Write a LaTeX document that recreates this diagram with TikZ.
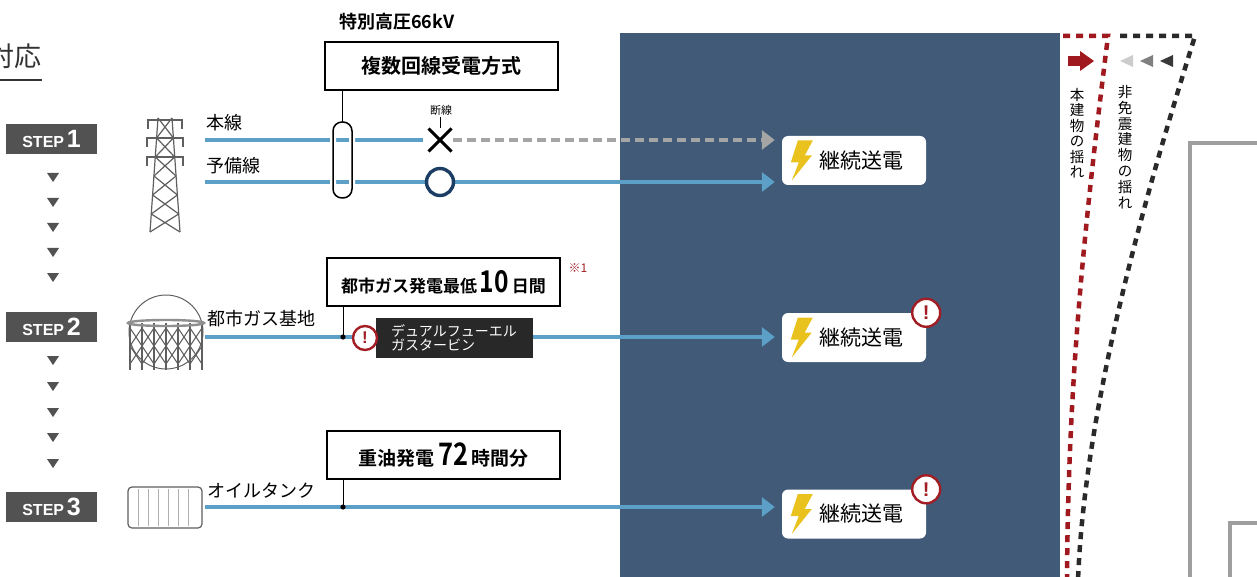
\documentclass[tikz,border=0pt]{standalone}
\usepackage{fontspec}
\setmainfont{Noto Sans CJK JP}[BoldFont={Noto Sans CJK JP Bold}]
\newfontfamily\lat{Liberation Sans}
\usetikzlibrary{arrows.meta, shapes.misc}

\definecolor{cableblue}{RGB}{92,160,200}
\definecolor{panelblue}{RGB}{64,90,120}
\definecolor{stepgray}{RGB}{82,82,82}
\definecolor{warnred}{RGB}{162,30,36}
\definecolor{ringnavy}{RGB}{28,62,100}
\definecolor{boltyellow}{RGB}{234,194,30}
\definecolor{cutgray}{RGB}{165,165,165}
\definecolor{shakered}{RGB}{160,25,30}
\definecolor{shakeblack}{RGB}{42,42,42}
\definecolor{icongray}{RGB}{95,95,95}
\definecolor{wallgray}{RGB}{158,158,158}
\definecolor{turbinebox}{RGB}{40,40,40}

\tikzset{
  stepbox/.style={fill=stepgray, text=white, minimum width=91pt, minimum height=30pt, inner sep=0pt, font=\lat\bfseries},
  infobox/.style={draw, line width=2pt, fill=white, minimum width=233pt, minimum height=48pt, inner sep=0pt, font=\bfseries},
  feedbox/.style={fill=white, rounded corners=6pt, minimum width=144pt, minimum height=49pt, inner sep=0pt, font=\fontsize{21}{21}\selectfont},
  cable/.style={draw=cableblue, line width=4pt, -{Triangle[length=13pt, width=19pt]}, shorten >=7pt},
  lostcable/.style={draw=cutgray, line width=4pt, dash pattern=on 9pt off 5pt, -{Triangle[length=13pt, width=19pt]}, shorten >=7pt},
  shake/.style={line width=4.5pt, dash pattern=on 7pt off 6pt},
  label/.style={font=\fontsize{18}{18}\selectfont, inner sep=0pt},
  zap/.pic={\fill[boltyellow] (6,-20) -- (21,-20) -- (13,-5) -- (20,-5) -- (0,20) -- (7,2) -- (-1,2) -- cycle;},
  warn/.pic={\draw[fill=white, draw=warnred, line width=2.4pt] (0,0) circle (#1);
             \node[text=warnred, font=\lat\bfseries\fontsize{17}{17}\selectfont, inner sep=0pt, scale=#1/12] {!};}
}

\begin{document}
\begin{tikzpicture}[x=1pt, y=-1pt]
  \useasboundingbox (0,0) rectangle (1257,577);
  \fill[white] (0,0) rectangle (1257,577);

  \node[anchor=east, font=\fontsize{27}{27}\selectfont, text=black!80, inner sep=0pt] (title) at (42,56) {対応};
  \draw[black!80, line width=2pt] (0,80) -- (title.east |- 0,80);

  \node[stepbox] (step1) at (51.5,139) {{\fontsize{16}{16}\selectfont STEP\,}{\fontsize{25}{25}\selectfont 1}};
  \node[stepbox] (step2) at (51.5,327) {{\fontsize{16}{16}\selectfont STEP\,}{\fontsize{25}{25}\selectfont 2}};
  \node[stepbox] (step3) at (51.5,507) {{\fontsize{16}{16}\selectfont STEP\,}{\fontsize{25}{25}\selectfont 3}};
  \foreach \y in {177,202,227,252,277,360,386,412,437,463}
    \fill[stepgray] (47,\y-4) -- (59,\y-4) -- (53,\y+5) -- cycle;

  \fill[panelblue] (620,33) rectangle (1060,577);

  % pylon
  \begin{scope}[draw=icongray, line width=1.2pt]
    \draw (158,118) -- (150,232) (172,118) -- (180,232);
    \foreach \y/\w in {120/18, 138/19, 157/19} {
      \draw[line width=2.2pt] (165-\w,\y) -- (165+\w,\y);
      \draw[line width=2pt] (166-\w,\y) -- (166-\w,\y+9) (164+\w,\y) -- (164+\w,\y+9);
    }
    \foreach \a/\b in {118/138,138/157,157/176,176/195,195/214,214/232}
      \draw ({158-8*(\a-118)/114},\a) -- ({172+8*(\b-118)/114},\b)
            ({172+8*(\a-118)/114},\a) -- ({158-8*(\b-118)/114},\b);
  \end{scope}

  % gas holder
  \begin{scope}[draw=icongray, line width=1pt]
    \draw (166,332) circle (37);
    \foreach \x in {130,142,...,202} \draw[line width=1.4pt] (\x,323) -- (\x,370);
    \foreach \x in {130,142,...,190}
      \draw (\x,328) -- (\x+12,346) -- (\x,364) (\x+12,328) -- (\x,346) -- (\x+12,364);
    \draw[line width=2.4pt, draw=icongray!70] (166,323) ellipse [x radius=38, y radius=3];
  \end{scope}

  % oil tank
  \draw[icongray, line width=1.2pt, rounded corners=4pt] (128,487) rectangle (202,528);
  \foreach \x in {138,148,...,194} \draw[icongray!50, line width=0.8pt] (\x,489) -- (\x,526);

  \node[label, anchor=west] (main) at (206,123) {本線};
  \node[label, anchor=west] (spare) at (206,166) {予備線};
  \node[label, anchor=west] (gasbase) at (207,319) {都市ガス基地};
  \node[label, anchor=west] (oiltank) at (207,491) {オイルタンク};

  \node[font=\bfseries\fontsize{18}{18}\selectfont, inner sep=0pt] (volt) at (397,22) {特別高圧66kV};
  \node[infobox, font=\bfseries\fontsize{20}{20}\selectfont] (multi) at (441.5,66) {複数回線受電方式};
  \node[infobox] (gasbox) at (443.5,282)
    {{\fontsize{17}{17}\selectfont 都市ガス発電最低\,}\scalebox{0.82}[1]{\fontsize{30}{30}\selectfont 10}{\fontsize{17}{17}\selectfont\,日間}};
  \node[infobox] (oilbox) at (443.5,455)
    {{\fontsize{19}{19}\selectfont 重油発電\,}\scalebox{0.82}[1]{\fontsize{31}{31}\selectfont 72}{\fontsize{19}{19}\selectfont\,時間分}};
  \node[text=warnred, font=\fontsize{12}{12}\selectfont, inner sep=0pt] (note) at (578,268) {※1};

  \node[feedbox] (feed1) at (854,160.5) {\hspace*{15pt}継続送電};
  \node[feedbox] (feed2) at (854,337.5) {\hspace*{15pt}継続送電};
  \node[feedbox] (feed3) at (854,514) {\hspace*{15pt}継続送電};

  \coordinate (src1) at (205,140);
  \coordinate (src2) at (205,182);
  \coordinate (src3) at (205,337);
  \coordinate (src4) at (205,507);
  \node[cross out, draw, line width=3pt, minimum size=20pt, inner sep=0pt] (cut) at (440,140) {};
  \node[font=\fontsize{11}{11}\selectfont, inner sep=0pt] (cutlbl) at (441,110) {断線};
  \draw[line width=0.8pt] ([yshift=-2pt]cut.north |- cutlbl.south) -- (cut.north);

  \draw[cable, -, shorten >=0pt] (src1) -- ([xshift=-17pt]cut.center);
  \draw[lostcable] ([xshift=13pt]cut.center) -- (feed1.west |- cut);
  \draw[cable] (src2) -- (feed1.west |- src2);
  \draw[cable] (src3) -- (feed2.west |- src3);
  \draw[cable] (src4) -- (feed3.west |- src4);

  \node[circle, draw=ringnavy, fill=white, line width=3.4pt, minimum size=27pt, inner sep=0pt] (ok) at (440,182) {};
  \node[draw, line width=1.5pt, rounded corners=9pt, minimum width=19pt, minimum height=76pt, inner sep=0pt,
        preaction={draw=white, line width=6pt}] (tap) at (342.5,160) {};
  \draw[line width=1pt] (tap.north |- multi.south) -- (tap.north);

  \coordinate (tap2) at (343,337);
  \coordinate (tap3) at (343,507);
  \draw[line width=1pt] (tap2 |- gasbox.south) -- (tap2);
  \draw[line width=1pt] (tap3 |- oilbox.south) -- (tap3);
  \fill (tap2) circle (2.6);
  \fill (tap3) circle (2.6);

  \node[fill=turbinebox, text=white, minimum width=157pt, minimum height=40pt, inner sep=0pt, align=left,
        font=\fontsize{14}{14}\selectfont] (turbine) at (454,338) {デュアルフューエル\\ガスタービン};
  \pic at (365,338) {warn=12};

  \pic at ([xshift=10pt]feed1.west) {zap};
  \pic at ([xshift=10pt]feed2.west) {zap};
  \pic at ([xshift=10pt]feed3.west) {zap};
  \pic at (feed2.north east) {warn=14};
  \pic at (feed3.north east) {warn=14};

  % building sway
  \draw[shake, shakered] (1063,36) -- (1108,36) .. controls (1085,220) and (1068,380) .. (1067,580);
  \draw[shake, shakeblack] (1120,36) -- (1195,36) .. controls (1150,180) and (1085,400) .. (1078,580);
  \fill[shakered] (1068,56) rectangle (1081,66);
  \fill[shakered] (1080,51) -- (1094,61) -- (1080,71) -- cycle;
  \fill[black!20] (1133,55) -- (1120,61) -- (1133,67) -- cycle;
  \fill[black!50] (1153,55) -- (1140,61) -- (1153,67) -- cycle;
  \fill[black!78] (1173,55) -- (1160,61) -- (1173,67) -- cycle;
  \node[align=center, font=\fontsize{14.5}{15.5}\selectfont, inner sep=0pt] (swayown) at (1077,133) {本\\建\\物\\の\\揺\\れ};
  \node[align=center, font=\fontsize{14.5}{15.8}\selectfont, inner sep=0pt] (swayother) at (1125,147) {非\\免\\震\\建\\物\\の\\揺\\れ};

  \draw[wallgray, line width=4pt] (1190,580) -- (1190,143) -- (1260,143);
  \draw[wallgray, line width=4pt] (1230,580) -- (1230,523) -- (1260,523);
\end{tikzpicture}
\end{document}
